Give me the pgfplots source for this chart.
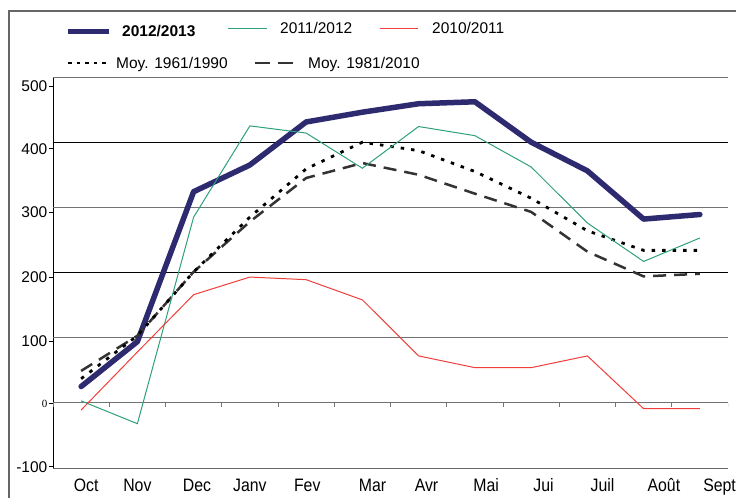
\documentclass[border=0pt]{standalone}
\usepackage{fontspec}
\setmainfont{Liberation Sans}
\newfontfamily\xfont{Liberation Sans}[FakeStretch=0.88]
\newfontfamily\zfont{Liberation Serif}
\usepackage{pgfplots}
\pgfplotsset{compat=1.18}
\definecolor{navy}{RGB}{45,42,112}
\definecolor{sgreen}{RGB}{46,160,122}
\definecolor{sred}{RGB}{240,62,58}
\begin{document}
\begin{tikzpicture}
\useasboundingbox (0,0) rectangle (736bp,-498bp);
\begin{axis}[
 at={(53bp,-468bp)}, anchor=south west,
 scale only axis, width=675bp, height=391bp,
 xmin=-0.5, xmax=11.5, ymin=-100, ymax=500,
 axis x line*=bottom, axis y line*=left,
 axis line style={-},
 x axis line style={draw=black!60, line width=1bp},
 y axis line style={draw=black, line width=0.8bp},
 xtick={0.09,1.0,2.06,3.0,4.02,5.18,6.14,7.2,8.22,9.27,10.36,11.35},
 xticklabels={Oct,Nov,Dec,Janv,Fev,Mar,Avr,Mai,Jui,Juil,Août,Sept},
 x tick style={draw=none},
 ytick={-98,-1.5,95,193,292,390,486},
 yticklabels={-100,{\zfont\fontsize{11bp}{12bp}\selectfont 0},100,200,300,400,500},
 y tick style={black, line width=0.8bp},
 tick align=outside, major tick length=4.5bp,
 yticklabel style={font=\fontsize{15.5bp}{17bp}\selectfont, inner sep=1bp},
 xticklabel style={font=\xfont\fontsize{18bp}{20bp}\selectfont, inner sep=0pt, anchor=north, yshift=-6bp},
]
\draw[black!55, line width=1bp] (axis cs:-0.5,500) -- (axis cs:11.5,500);
\draw[black, line width=0.9bp] (axis cs:-0.5,400) -- (axis cs:11.5,400);
\draw[black!55, line width=1bp] (axis cs:-0.5,300) -- (axis cs:11.5,300);
\draw[black, line width=0.9bp] (axis cs:-0.5,200) -- (axis cs:11.5,200);
\draw[black!55, line width=1bp] (axis cs:-0.5,100) -- (axis cs:11.5,100);
\draw[black!55, line width=1bp] (axis cs:-0.5,0) -- (axis cs:11.5,0);
\pgfplotsinvokeforeach{-0.5,0.5,1.5,2.5,3.5,4.5,5.5,6.5,7.5,8.5,9.5,10.5,11.5}{
  \draw[black!55, line width=0.8bp] (axis cs:#1,0) -- ([yshift=-4bp]axis cs:#1,0);
}
% 2012/2013
\addplot[color=navy, line width=5.5bp, line cap=round, line join=round] coordinates {
 (0,25) (1,94) (2,324) (3,365) (4,431) (5,446) (6,459) (7,462) (8,400) (9,356) (10,282) (11,289)};
% Moy 1981/2010
\addplot[color=black!80, line width=2.5bp, dash pattern=on 13bp off 8bp] coordinates {
 (0,49) (1,103) (2,201) (3,278) (4,345) (5,368) (6,350) (7,321) (8,293) (9,232) (10,194) (11,198)};
% Moy 1961/1990
\addplot[color=black, line width=2.8bp, dash pattern=on 3.5bp off 7bp] coordinates {
 (0,37) (1,103) (2,201) (3,285) (4,359) (5,400) (6,387) (7,355) (8,314) (9,264) (10,234) (11,234)};
% 2011/2012
\addplot[color=sgreen, line width=1bp] coordinates {
 (0,3) (1,-32) (2,285) (3,425) (4,414) (5,360) (6,424) (7,410) (8,362) (9,276) (10,217) (11,253)};
% 2010/2011
\addplot[color=sred, line width=1bp] coordinates {
 (0,-11) (1,78) (2,166) (3,193) (4,189) (5,158) (6,72) (7,54) (8,54) (9,72) (10,-9) (11,-9)};
\end{axis}
\begin{scope}[x=1bp,y=-1bp]
\draw[black!60, line width=1.3bp] (9,498) -- (9,11) -- (736,11);
\draw[navy, line width=5bp] (68,31) -- (109,31);
\node[anchor=base west, inner sep=0pt, font=\bfseries\fontsize{15.5bp}{17bp}\selectfont] at (122,36.5) {2012/2013};
\draw[sgreen, line width=1bp] (228,28) -- (267,28);
\node[anchor=base west, inner sep=0pt, font=\fontsize{15.5bp}{17bp}\selectfont] at (280,33.5) {2011/2012};
\draw[sred, line width=1bp] (380,28) -- (418,28);
\node[anchor=base west, inner sep=0pt, font=\fontsize{15.5bp}{17bp}\selectfont] at (432,33.5) {2010/2011};
\draw[black, line width=2.8bp, dash pattern=on 3.5bp off 5bp] (68,63) -- (110,63);
\node[anchor=base west, inner sep=0pt, font=\fontsize{15.5bp}{17bp}\selectfont] at (116,68) {Moy. 1961/1990};
\draw[black!80, line width=2.8bp, dash pattern=on 15bp off 8bp] (255,63) -- (293,63);
\node[anchor=base west, inner sep=0pt, font=\fontsize{15.5bp}{17bp}\selectfont] at (308,68) {Moy. 1981/2010};
\end{scope}
\end{tikzpicture}
\end{document}
